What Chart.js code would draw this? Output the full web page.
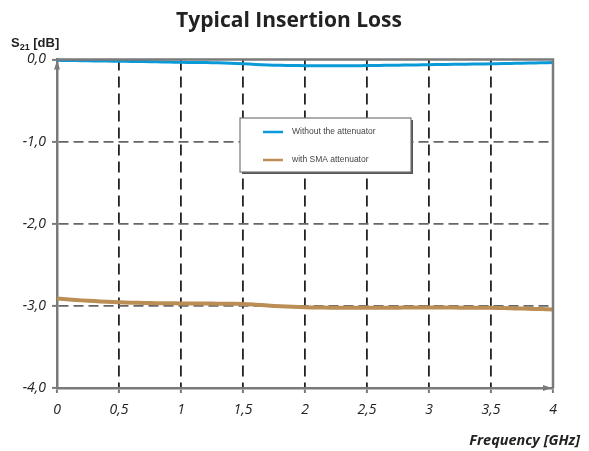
<!DOCTYPE html>
<html>
<head>
<meta charset="utf-8">
<script src="https://cdn.jsdelivr.net/npm/chart.js@4"></script>
<style>
    html, body { margin: 0; padding: 0; background: #fff; }
    canvas { display: block; }
</style>
</head>
<body>
<canvas id="chart" width="589" height="451"></canvas>
<script>
    const freqGHz = [0, 0.1, 0.2, 0.3, 0.4, 0.5, 0.6, 0.7, 0.8, 0.9, 1.0,
        1.1, 1.2, 1.3, 1.4, 1.5, 1.6, 1.7, 1.8, 1.9, 2.0,
        2.1, 2.2, 2.3, 2.4, 2.5, 2.6, 2.7, 2.8, 2.9, 3.0,
        3.1, 3.2, 3.3, 3.4, 3.5, 3.6, 3.7, 3.8, 3.9, 4.0];

    const withoutAttenuator = [-0.010, -0.012, -0.015, -0.017, -0.019, -0.021, -0.023, -0.025, -0.028, -0.031, -0.034,
        -0.036, -0.038, -0.041, -0.045, -0.052, -0.060, -0.067, -0.071, -0.073, -0.075,
        -0.076, -0.076, -0.075, -0.075, -0.074, -0.072, -0.070, -0.068, -0.066, -0.063,
        -0.061, -0.059, -0.057, -0.055, -0.052, -0.050, -0.047, -0.044, -0.041, -0.038];

    const withSmaAttenuator = [-2.910, -2.922, -2.933, -2.942, -2.950, -2.957, -2.961, -2.964, -2.967, -2.969, -2.970,
        -2.971, -2.972, -2.973, -2.975, -2.977, -2.985, -2.995, -3.005, -3.012, -3.017,
        -3.020, -3.022, -3.023, -3.024, -3.024, -3.023, -3.022, -3.021, -3.020, -3.019,
        -3.020, -3.021, -3.022, -3.023, -3.024, -3.027, -3.031, -3.035, -3.039, -3.043];

    const seriesLabels = ["Without the attenuator", "with SMA attenuator"];
    const xTicks = { min: 0, max: 4, step: 0.5 };
    const yTicks = { min: -4, max: 0, step: 1 };

    const toPoints = (ys) => freqGHz.map((f, i) => ({ x: f, y: ys[i] }));
    const comma = (v) => String(v).replace(".", ",");

    const decorations = {
        id: "decorations",
        afterDraw(chart) {
            const ctx = chart.ctx;
            const a = chart.chartArea;
            ctx.save();

            // frame: solid top and right edges
            ctx.strokeStyle = "#7a7a7a";
            ctx.lineWidth = 2.5;
            ctx.beginPath();
            ctx.moveTo(a.left, a.top);
            ctx.lineTo(a.right, a.top);
            ctx.lineTo(a.right, a.bottom);
            ctx.stroke();

            // arrow heads on the axes
            ctx.fillStyle = "#7a7a7a";
            ctx.beginPath();
            ctx.moveTo(a.left, a.top + 1);
            ctx.lineTo(a.left - 3, a.top + 10);
            ctx.lineTo(a.left + 3, a.top + 10);
            ctx.closePath();
            ctx.fill();
            ctx.beginPath();
            ctx.moveTo(a.right - 1, a.bottom);
            ctx.lineTo(a.right - 10, a.bottom - 3);
            ctx.lineTo(a.right - 10, a.bottom + 3);
            ctx.closePath();
            ctx.fill();

            // title
            ctx.fillStyle = "#222";
            ctx.textAlign = "center";
            ctx.textBaseline = "alphabetic";
            ctx.font = "bold 21px 'Open Sans'";
            ctx.fillText("Typical Insertion Loss", 289, 27);

            // y axis label S21 [dB]
            ctx.textAlign = "left";
            ctx.font = "bold 13px 'Liberation Sans'";
            ctx.fillText("S", 11, 47);
            let x = 11 + ctx.measureText("S").width;
            ctx.font = "bold 9px 'Liberation Sans'";
            ctx.fillText("21", x, 50);
            x += ctx.measureText("21").width;
            ctx.font = "bold 13px 'Liberation Sans'";
            ctx.fillText(" [dB]", x, 47);

            // x axis label
            ctx.textAlign = "right";
            ctx.font = "italic bold 14.5px 'Open Sans'";
            ctx.fillText("Frequency [GHz]", 580, 445);

            ctx.restore();
        },
        afterDatasetsDraw(chart) {
            const ctx = chart.ctx;
            const box = { x: 240, y: 118, w: 171, h: 54 };
            ctx.save();
            ctx.fillStyle = "#555";
            ctx.fillRect(box.x + 2, box.y + 2, box.w, box.h);
            ctx.fillStyle = "#fff";
            ctx.fillRect(box.x, box.y, box.w, box.h);
            ctx.strokeStyle = "#777";
            ctx.lineWidth = 1.2;
            ctx.strokeRect(box.x, box.y, box.w, box.h);

            ctx.font = "8.5px 'Liberation Sans'";
            ctx.textAlign = "left";
            ctx.textBaseline = "middle";
            chart.data.datasets.forEach((ds, i) => {
                const y = box.y + 14 + i * 28;
                ctx.strokeStyle = ds.borderColor;
                ctx.lineWidth = 2.5;
                ctx.beginPath();
                ctx.moveTo(box.x + 23, y);
                ctx.lineTo(box.x + 43, y);
                ctx.stroke();
                ctx.fillStyle = "#444";
                ctx.fillText(ds.label, box.x + 52, y);
            });
            ctx.restore();
        }
    };

    new Chart(document.getElementById("chart"), {
        type: "line",
        data: {
            datasets: [
                {
                    label: seriesLabels[0],
                    data: toPoints(withoutAttenuator),
                    borderColor: "#0b9ad8",
                    borderWidth: 3,
                    pointRadius: 0,
                    tension: 0.3
                },
                {
                    label: seriesLabels[1],
                    data: toPoints(withSmaAttenuator),
                    borderColor: "#bb8e56",
                    borderWidth: 4,
                    pointRadius: 0,
                    tension: 0.3
                }
            ]
        },
        options: {
            responsive: false,
            animation: false,
            layout: { padding: { left: 0, top: 59.5, right: 36, bottom: 0 } },
            plugins: {
                legend: { display: false },
                title: { display: false },
                tooltip: { enabled: false }
            },
            scales: {
                x: {
                    type: "linear",
                    min: xTicks.min,
                    max: xTicks.max,
                    afterFit: (scale) => { scale.height = 63; },
                    border: { color: "#7a7a7a", width: 2.5, dash: [11, 6] },
                    grid: {
                        color: (c) => (c.tick && (c.tick.value === 0 || c.tick.value === 4)) ? "rgba(0,0,0,0)" : "#222",
                        lineWidth: 1.8,
                        tickColor: "#7a7a7a",
                        tickWidth: 2,
                        tickLength: 5
                    },
                    ticks: {
                        stepSize: xTicks.step,
                        padding: 9,
                        color: "#222",
                        maxRotation: 0,
                        font: { family: "'Open Sans'", style: "italic", size: 14 },
                        callback: (v) => comma(v)
                    }
                },
                y: {
                    min: yTicks.min,
                    max: yTicks.max,
                    afterFit: (scale) => { scale.width = 57; },
                    border: { color: "#7a7a7a", width: 2.5, dash: [10, 5] },
                    grid: {
                        color: (c) => (c.tick && (c.tick.value === 0 || c.tick.value === -4)) ? "rgba(0,0,0,0)" : "#666",
                        lineWidth: 1.8,
                        tickColor: "#7a7a7a",
                        tickWidth: 2,
                        tickLength: 5
                    },
                    ticks: {
                        stepSize: yTicks.step,
                        padding: 6,
                        color: "#222",
                        font: { family: "'Open Sans'", style: "italic", size: 14 },
                        callback: (v) => comma(Math.abs(v) < 1e-9 ? "0.0" : Number(v).toFixed(1))
                    }
                }
            }
        },
        plugins: [decorations]
    });
</script>
</body>
</html>
